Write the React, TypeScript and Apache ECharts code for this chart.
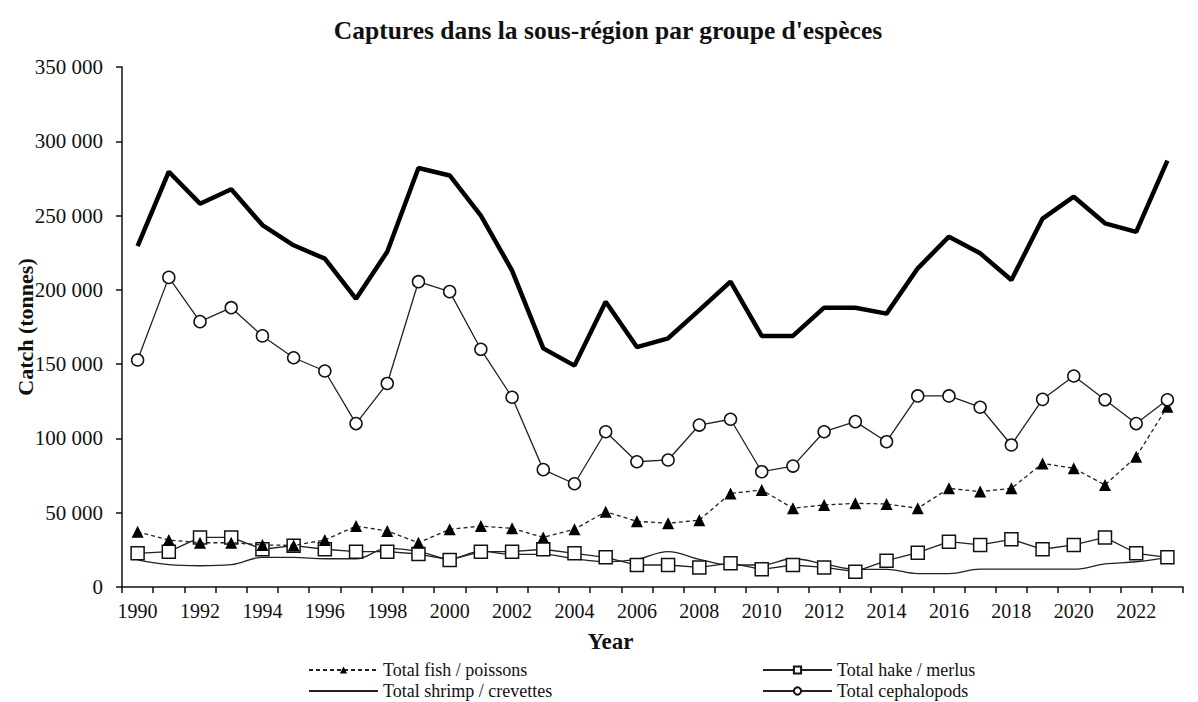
import React, { useEffect, useRef } from "react";
import * as echarts from "echarts";

const years = [
  "1990","1991","1992","1993","1994","1995","1996","1997","1998","1999",
  "2000","2001","2002","2003","2004","2005","2006","2007","2008","2009",
  "2010","2011","2012","2013","2014","2015","2016","2017","2018","2019",
  "2020","2021","2022","2023",
];

const totalCatch = [
  229500, 279500, 258000, 267700, 243600, 230000, 221000, 194000, 225700, 282000,
  277000, 250000, 213000, 160600, 149000, 192000, 161500, 167400, 186400, 205500,
  169000, 169000, 188000, 188000, 184000, 214500, 235800, 224600, 206600, 248000,
  262700, 244800, 239000, 287000,
];

const cephalopods = [
  152800, 208400, 178600, 188000, 169000, 154300, 145400, 110000, 137000, 205500,
  198800, 160000, 127700, 79000, 69500, 104500, 84300, 85500, 109000, 112900,
  77600, 81400, 104500, 111300, 97800, 128600, 128600, 121000, 95600, 126300,
  142000, 126000, 110000, 126000,
];

const fish = [
  37200, 31600, 29800, 29800, 28300, 28000, 31600, 41000, 37700, 29800,
  38800, 41000, 39500, 33400, 38800, 50700, 44200, 42900, 45000, 63000,
  65300, 53000, 55200, 56300, 55900, 53000, 66400, 64200, 66400, 83200,
  79900, 68700, 87700, 121400,
];

const hake = [
  22700, 23800, 33400, 33400, 25400, 27800, 25400, 23800, 23800, 22200,
  18200, 23800, 23800, 25400, 22700, 20000, 14800, 14800, 13200, 16000,
  11900, 14800, 13200, 10300, 17700, 23100, 30500, 28300, 32100, 25400,
  28300, 33400, 22700, 20000,
];

const shrimp = [
  18200, 15000, 14300, 15000, 20000, 20000, 19000, 19000, 26000, 24000,
  19000, 24000, 22000, 22000, 19000, 17000, 18600, 23800, 18600, 14800,
  14800, 19000, 15500, 11900, 11900, 9000, 9000, 12000, 12000, 12000,
  12000, 15500, 17000, 20000,
];

const names = {
  fish: "Total fish / poissons",
  hake: "Total hake / merlus",
  shrimp: "Total shrimp / crevettes",
  ceph: "Total cephalopods",
  total: "Total",
};

const FONT = "Liberation Serif";

export default function App() {
  const ref = useRef<HTMLDivElement>(null);

  useEffect(() => {
    if (!ref.current) return;
    const chart = echarts.init(ref.current, undefined, { renderer: "svg" });

    const legendText = { fontFamily: FONT, fontSize: 18, color: "#111" };
    const mkLegend = (name: string, left: number, top: number, extra: any = {}) => ({
      data: [name],
      left,
      top,
      itemWidth: 69,
      itemHeight: 9,
      padding: 0,
      textStyle: legendText,
      selectedMode: false,
      ...extra,
    });

    chart.setOption({
      animation: false,
      backgroundColor: "#fff",
      textStyle: { fontFamily: FONT },
      title: {
        text: "Captures dans la sous-région par groupe d'espèces",
        left: 603,
        textAlign: "center",
        top: 12,
        textStyle: { fontFamily: FONT, fontSize: 25.5, fontWeight: "bold", color: "#111" },
      },
      legend: [
        mkLegend(names.fish, 308, 661),
        mkLegend(names.hake, 762, 661),
        mkLegend(names.shrimp, 308, 682, {
          itemStyle: { color: "rgba(0,0,0,0)", borderWidth: 0 },
        }),
        mkLegend(names.ceph, 762, 682),
      ],
      grid: {
        left: 122, right: 15, top: 67, bottom: 115,
        containLabel: false,
        outerBoundsMode: "none",
      },
      xAxis: {
        type: "category",
        data: years,
        boundaryGap: true,
        name: "Year",
        nameLocation: "middle",
        nameGap: 43,
        nameMoveOverlap: false,
        nameTextStyle: {
          fontFamily: FONT, fontSize: 23, fontWeight: "bold", color: "#111",
          padding: [0, 84, 0, 0],
        },
        axisLine: { lineStyle: { color: "#111", width: 1.5 } },
        axisTick: { show: true, interval: 0, length: 6, lineStyle: { color: "#111", width: 1.5 } },
        axisLabel: {
          interval: 1,
          margin: 14,
          fontFamily: FONT, fontSize: 20, color: "#111",
        },
        splitLine: { show: false },
      },
      yAxis: {
        type: "value",
        min: 0,
        max: 350000,
        interval: 50000,
        name: "Catch (tonnes)",
        nameLocation: "middle",
        nameGap: 86,
        nameMoveOverlap: false,
        nameTextStyle: { fontFamily: FONT, fontSize: 22, fontWeight: "bold", color: "#111" },
        axisLine: { show: true, lineStyle: { color: "#111", width: 1.5 } },
        axisTick: { show: true, length: 6, lineStyle: { color: "#111", width: 1.5 } },
        axisLabel: {
          margin: 19,
          fontFamily: FONT, fontSize: 21, color: "#111",
          formatter: (v: number) => (v === 0 ? "0" : `${v / 1000} 000`),
        },
        splitLine: { show: false },
      },
      series: [
        {
          name: names.shrimp,
          type: "line",
          data: shrimp,
          smooth: 0.4,
          symbol: "none",
          lineStyle: { color: "#222", width: 1.3 },
          itemStyle: { color: "#222" },
          z: 2,
        },
        {
          name: names.hake,
          type: "line",
          data: hake,
          symbol: "rect",
          symbolSize: 13,
          lineStyle: { color: "#222", width: 1.3 },
          itemStyle: { color: "#fff", borderColor: "#111", borderWidth: 1.5 },
          z: 3,
        },
        {
          name: names.fish,
          type: "line",
          data: fish,
          symbol: "triangle",
          symbolSize: 12,
          lineStyle: { color: "#222", width: 1.3, type: [4, 3] },
          itemStyle: { color: "#000" },
          z: 4,
        },
        {
          name: names.ceph,
          type: "line",
          data: cephalopods,
          symbol: "circle",
          symbolSize: 12,
          lineStyle: { color: "#222", width: 1.3 },
          itemStyle: { color: "#fff", borderColor: "#111", borderWidth: 1.5 },
          z: 5,
        },
        {
          name: names.total,
          type: "line",
          data: totalCatch,
          symbol: "none",
          lineStyle: { color: "#000", width: 4.5 },
          itemStyle: { color: "#000" },
          z: 6,
        },
      ],
    });

    return () => chart.dispose();
  }, []);

  return (
    <div
      ref={ref}
      style={{ position: "fixed", left: 0, top: 0, width: 1198, height: 702, background: "#fff" }}
    />
  );
}
